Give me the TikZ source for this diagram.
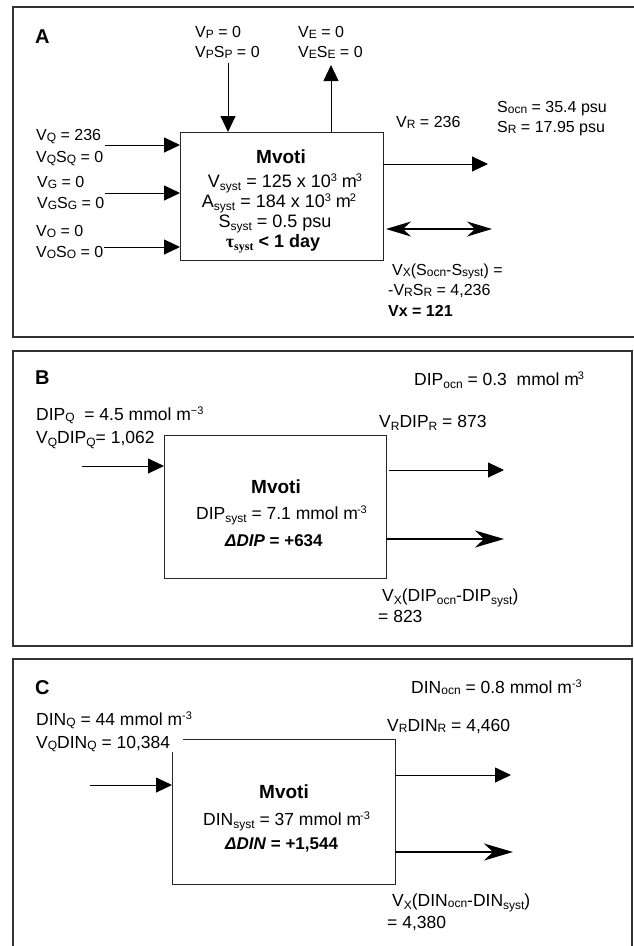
\documentclass[tikz,border=0pt]{standalone}
\usepackage{fontspec}
\setmainfont{Liberation Sans}
\newfontfamily\serifgreek{Liberation Serif}
\usetikzlibrary{arrows.meta}
\newcommand\fsz{\fontsize{16}{19}\selectfont}
\newcommand\fbx{\fontsize{18}{20}\selectfont}
\newcommand\fbc{\fontsize{17.5}{20}\selectfont}
\newcommand\lo[1]{\raisebox{-1.2pt}{\fontsize{12}{12}\selectfont #1}}
\newcommand\low[1]{\raisebox{-3pt}{\fontsize{12}{12}\selectfont #1}}
\newcommand\hi[1]{\raisebox{6pt}{\fontsize{11}{11}\selectfont #1}}
\begin{document}
\begin{tikzpicture}[x=1pt,y=-1pt,
  frame/.style={draw=black!80, line width=1.6pt},
  boxline/.style={draw=black!85, line width=0.9pt},
  sysbox/.style={inner sep=0pt, outer sep=0pt},
  lbl/.style={anchor=base west, inner sep=0pt, font=\fsz},
  lblbc/.style={anchor=base west, inner sep=0pt, font=\fbc},
  ctr/.style={anchor=base, inner sep=0pt, font=\fbx},
  title/.style={anchor=base, inner sep=0pt, font=\fontsize{19}{20}\selectfont\bfseries},
  panel/.style={anchor=base west, inner sep=0pt, font=\fontsize{20}{20}\selectfont\bfseries},
  arr/.style={line width=0.9pt, -{Triangle[length=16pt,width=15pt]}},
  exch/.style={line width=2pt, -{Stealth[length=29pt,width=17pt,inset=9pt]}},
  exchtwo/.style={line width=1.8pt, {Stealth[length=25pt,width=15pt,inset=8pt]}-{Stealth[length=25pt,width=15pt,inset=8pt]}}
]
\useasboundingbox (0,0) rectangle (634,946);
\fill[white] (0,0) rectangle (634,946);

% ---------- frames ----------
\draw[frame] (640,7) -- (13,7) -- (13,337) -- (640,337);
\draw[frame] (13,351) rectangle (632,646);
\draw[frame] (13,960) -- (13,659) -- (632,659) -- (632,960);

% ================= Panel A =================
\node[sysbox, boxline, minimum width=203pt, minimum height=128pt] (boxA) at (281.5,196) {};
\node[panel] (labA) at (35,43) {A};
\node[lbl] (vpA) at (195,37) {V\lo{P} = 0};
\node[lbl] (vpsA) at (195,57) {V\lo{P}S\lo{P} = 0};
\node[lbl] (veA) at (298,37) {V\lo{E} = 0};
\node[lbl] (vesA) at (298,57) {V\lo{E}S\lo{E} = 0};
\node[lbl] (vqA) at (36,140) {V\lo{Q} = 236};
\node[lbl] (vqsA) at (36,162) {V\lo{Q}S\lo{Q} = 0};
\node[lbl] (vgA) at (37,187) {V\lo{G} = 0};
\node[lbl] (vgsA) at (37,208) {V\lo{G}S\lo{G} = 0};
\node[lbl] (voA) at (36,236) {V\lo{O} = 0};
\node[lbl] (vosA) at (36,257) {V\lo{O}S\lo{O} = 0};
\node[title] (mA) at (281,163) {Mvoti};
\node[ctr] (vsA) at (285,187) {V\low{syst} = 125 x 10\hi{3} m\kern-1pt\hi{3}};
\node[ctr] (asA) at (279,207) {A\low{syst} = 184 x 10\hi{3} m\kern-1pt\hi{2}};
\node[ctr] (ssA) at (275,227) {S\low{syst} = 0.5 psu};
\node[ctr] (tauA) at (273,247) {{\serifgreek\bfseries τ\low{\serifgreek\bfseries syst}} \textbf{< 1 day}};
\node[lbl] (vrA) at (396,127) {V\lo{R} = 236};
\node[lbl] (socnA) at (497,112) {S\lo{ocn} = 35.4 psu};
\node[lbl] (srA) at (497,132) {S\lo{R} = 17.95 psu};
\node[lbl] (vx1A) at (392,275) {V\lo{X}(S\lo{ocn}-S\lo{syst}) =};
\node[lbl] (vx2A) at (388,295) {-V\lo{R}S\lo{R} = 4,236};
\node[lbl, font=\fsz\bfseries] (vx3A) at (388,316) {Vx = 121};

\coordinate (pA) at (228,63);
\coordinate (eA) at (331,65);
\coordinate (qA) at (105,145);
\coordinate (gA) at (105,193);
\coordinate (oA) at (104,247);
\coordinate (rA) at (488,164);
\coordinate (xlA) at (386,229);
\coordinate (xrA) at (492,229);
\draw[arr] (pA) -- (pA |- boxA.north);
\draw[arr] (eA |- boxA.north) -- (eA);
\draw[arr] (qA) -- (qA -| boxA.west);
\draw[arr] (gA) -- (gA -| boxA.west);
\draw[arr] (oA) -- (oA -| boxA.west);
\draw[arr] (rA -| boxA.east) -- (rA);
\draw[exchtwo] (xlA) -- (xrA);

% ================= Panel B =================
\node[sysbox, boxline, minimum width=222pt, minimum height=143pt] (boxB) at (275,506.5) {};
\node[panel] (labB) at (35,384) {B};
\node[lblbc] (dipqB) at (36,420) {DIP\lo{Q}\ \ = 4.5 mmol m\hi{−3}};
\node[lblbc] (vqdB) at (36,443) {V\low{Q}DIP\low{Q}= 1,062};
\node[title] (mB) at (276,493) {Mvoti};
\node[lblbc] (dipsB) at (196,519) {DIP\low{syst} = 7.1 mmol m\kern-1pt\hi{-3}};
\node[lblbc, font=\fontsize{17}{20}\selectfont\bfseries] (ddB) at (225,546) {\textit{ΔDIP} = +634};
\node[lblbc] (dipoB) at (414,385) {DIP\low{ocn} = 0.3\ \ mmol m\kern-1pt\hi{3}};
\node[lblbc] (vrB) at (379,427) {V\low{R}DIP\low{R} = 873};
\node[lblbc] (vx1B) at (382,601) {V\low{X}(DIP\low{ocn}-DIP\low{syst})};
\node[lblbc] (vx2B) at (378,622) {= 823};

\coordinate (qB) at (82,466);
\coordinate (rB) at (504,470);
\coordinate (xB) at (504,539);
\draw[arr] (qB) -- (qB -| boxB.west);
\draw[arr] ([xshift=3pt]rB -| boxB.east) -- (rB);
\draw[exch] (xB -| boxB.east) -- (xB);

% ================= Panel C =================
\node[sysbox, minimum width=223pt, minimum height=145pt] (boxC) at (283.5,811.5) {};
\draw[boxline] ([xshift=11pt]boxC.north west) -- (boxC.north east) -- (boxC.south east) -- (boxC.south west) -- ([yshift=-13pt]boxC.north west);
\node[panel] (labC) at (35,694) {C};
\node[lblbc] (dinqC) at (36,725) {DIN\lo{Q} = 44 mmol m\hi{-3}};
\node[lblbc] (vqdC) at (36,748) {V\lo{Q}DIN\lo{Q} = 10,384};
\node[title] (mC) at (284,798) {Mvoti};
\node[lblbc] (dinsC) at (203,825) {DIN\low{syst} = 37 mmol m\kern-1pt\hi{-3}};
\node[lblbc, font=\fontsize{17}{20}\selectfont\bfseries] (ddC) at (225,849) {\textit{ΔDIN} = +1,544};
\node[lblbc] (dinoC) at (411,693) {DIN\lo{ocn} = 0.8 mmol m\hi{-3}};
\node[lblbc] (vrC) at (387,731) {V\lo{R}DIN\lo{R} = 4,460};
\node[lblbc] (vx1C) at (392,906) {V\low{X}(DIN\lo{ocn}-DIN\low{syst})};
\node[lblbc] (vx2C) at (387,928) {= 4,380};

\coordinate (qC) at (90,785);
\coordinate (rC) at (511,775);
\coordinate (xC) at (513,852);
\draw[arr] (qC) -- (qC -| boxC.west);
\draw[arr] (rC -| boxC.east) -- (rC);
\draw[exch] (xC -| boxC.east) -- (xC);
\end{tikzpicture}
\end{document}
